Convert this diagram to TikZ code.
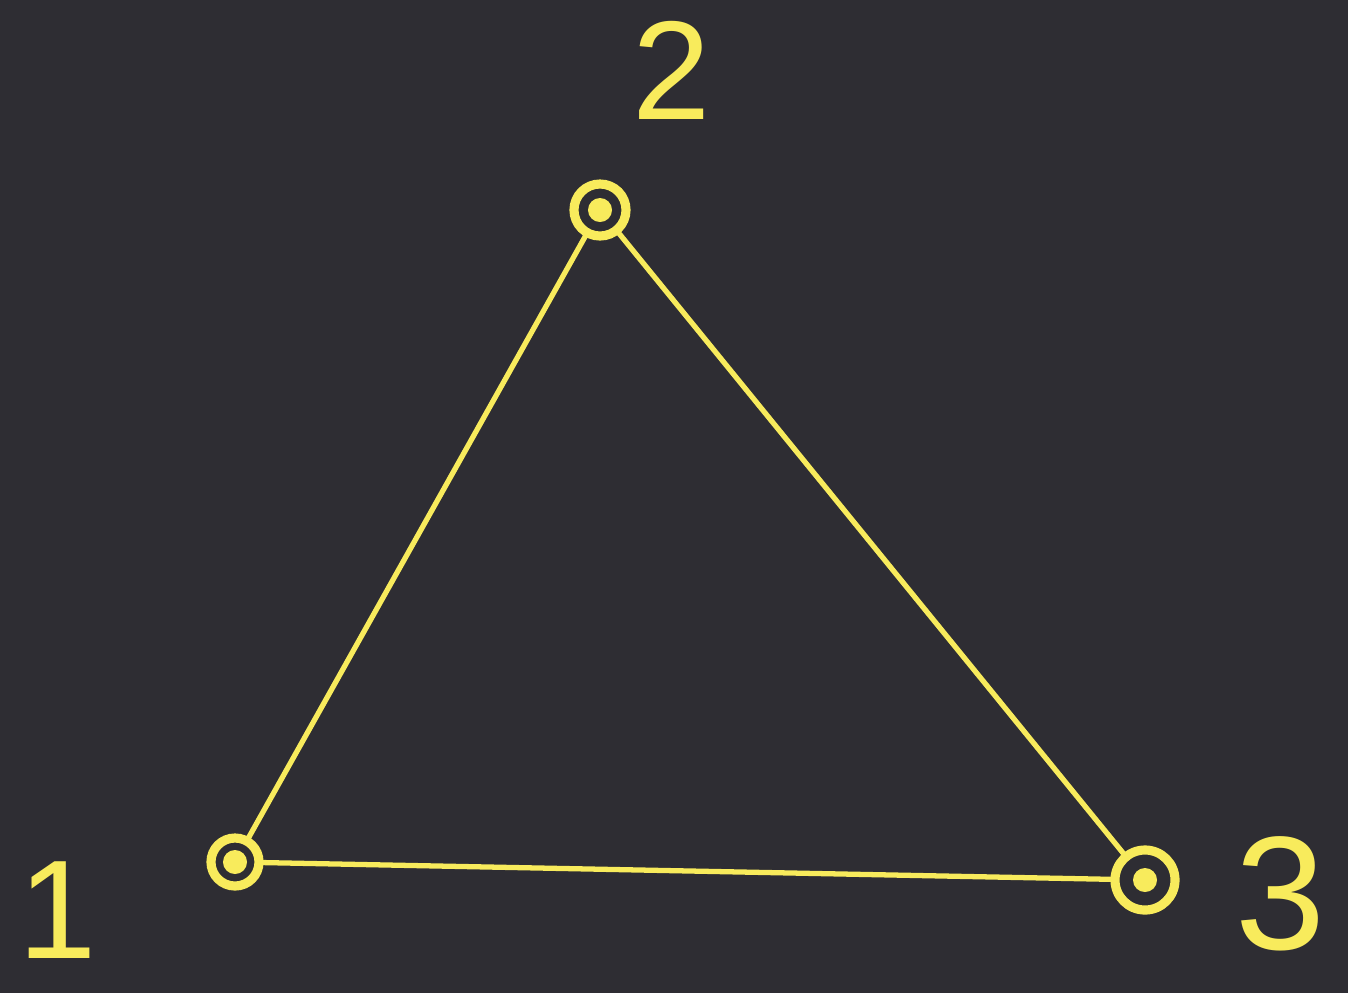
\documentclass[tikz,border=0pt]{standalone}
\usepackage{fontspec}
\setmainfont{Liberation Sans}
\usepackage{xcolor}
\usepackage{tikz}
\usetikzlibrary{positioning,backgrounds}
\definecolor{board}{HTML}{2E2D33}
\definecolor{chalk}{HTML}{F8EB5C}
\tikzset{
  vtx/.style={circle, draw=chalk, fill=board, line width=2.6pt, inner sep=0pt, minimum size=#1,
    path picture={\fill[chalk] (path picture bounding box.center) circle (0.12cm);}},
  vtx/.default=0.44cm,
  edg/.style={draw=chalk, line width=1.5pt, line cap=round},
  num/.style={text=chalk, inner sep=0pt, font=\fontsize{#1}{#1}\selectfont},
}
\begin{document}
\begin{tikzpicture}[x=0.01cm, y=-0.01cm]
    \fill[board] (0,0) rectangle (1348,993);
    \useasboundingbox (0,0) rectangle (1348,993);
    % vertices
    \node[vtx=0.48cm] (v1) at (235,862) {};
    \node[vtx=0.52cm] (v2) at (600,210) {};
    \node[vtx=0.6cm] (v3) at (1145,880) {};
    \draw[edg] (v1) -- (v2);
    \draw[edg] (v2) -- (v3);
    \draw[edg] (v1) -- (v3);
    % labels
    \node[num=40pt] (l1) at (58,910) {1};
    \node[num=40pt] (l2) at (672,70) {2};
    \node[num=46pt] (l3) at (1280,894) {3};
\end{tikzpicture}
\end{document}
